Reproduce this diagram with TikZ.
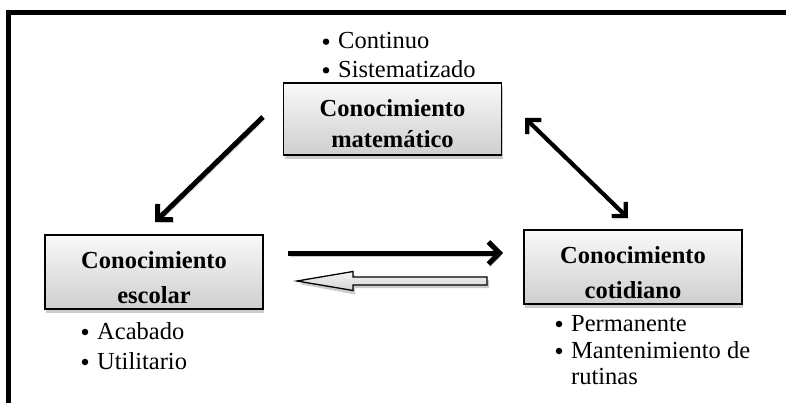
\documentclass[tikz,border=0pt]{standalone}
\usepackage{fontspec}
\setmainfont{Liberation Serif}
\usetikzlibrary{arrows.meta,shadows}
\begin{document}
\begin{tikzpicture}[x=1pt,y=-1pt,
  kbox/.style={draw=black, line width=1.6pt, minimum width=218pt, minimum height=74pt, inner sep=0pt,
    top color=gray!5, bottom color=gray!38,
    drop shadow={shadow xshift=1pt, shadow yshift=-4pt, fill=gray!40, opacity=1}},
  ktext/.style={font=\fontsize{24.5}{28}\selectfont\bfseries, anchor=base, inner sep=0pt},
  item/.style={font=\fontsize{24.5}{28}\selectfont, anchor=base west, inner sep=0pt},
  bul/.style={circle, fill=black, inner sep=0pt, minimum size=6.5pt},
  bigarrow/.style={line width=5pt, -{Straight Barb[length=11pt,width=22pt]},
    preaction={draw=gray!40, transform canvas={shift={(1.5pt,-3pt)}}}},
  dblarrow/.style={line width=4.2pt, {Straight Barb[length=10pt,width=20pt]}-{Straight Barb[length=10pt,width=20pt]},
    preaction={draw=gray!40, transform canvas={shift={(1.5pt,-3pt)}}}},
  hollow/.style={draw=black, line width=1.3pt, line join=miter, top color=gray!8, bottom color=gray!35}
]
\useasboundingbox (0,0) rectangle (786,402);
\fill[white] (0,0) rectangle (786,402);
% frame
\draw[line width=5pt, line join=miter] (8.5,410) -- (8.5,12.5) -- (800,12.5);

% boxes
\node[kbox, minimum height=72pt] (mat) at (392.5,119) {};
\node[kbox] (esc) at (154,272) {};
\node[kbox] (cot) at (633,267) {};

\node[ktext] (mat1) at (392.5,116) {Conocimiento};
\node[ktext] (mat2) at (392.5,147) {matemático};
\node[ktext] (esc1) at (154,268) {Conocimiento};
\node[ktext] (esc2) at (154,303) {escolar};
\node[ktext] (cot1) at (633,263) {Conocimiento};
\node[ktext] (cot2) at (633,298) {cotidiano};

% bullet lists
\node[item] (l1) at (338,48.7) {Continuo};
\node[item] (l2) at (338,77.3) {Sistematizado};
\node[item] (l3) at (97,339) {Acabado};
\node[item] (l4) at (97,369) {Utilitario};
\node[item] (l5) at (571,331) {Permanente};
\node[item] (l6) at (571,358) {Mantenimiento de};
\node[item] (l7) at (571,384) {rutinas};
\foreach \n in {l1,l2,l3,l4,l5,l6} {
  \node[bul] at ([xshift=-12pt,yshift=7pt]\n.base west) {};
}

% arrows
\coordinate (a1s) at (263,117);
\coordinate (a1e) at (155,222);
\draw[bigarrow] (a1s) -- (a1e);

\coordinate (a2s) at (525,118);
\coordinate (a2e) at (628,218);
\draw[dblarrow] (a2s) -- (a2e);

\coordinate (a3s) at (288,253);
\coordinate (a3e) at (503,253);
\draw[bigarrow] (a3s) -- (a3e);

% hollow left arrow
\fill[gray!40] (299,284) -- (355,274.5) -- (355,280) -- (489,280) -- (489,288) -- (355,288) -- (355,294.5) -- cycle;
\draw[hollow] (297,281) -- (353,271.5) -- (353,277) -- (487,277) -- (487,285) -- (353,285) -- (353,290.5) -- cycle;
\end{tikzpicture}
\end{document}
